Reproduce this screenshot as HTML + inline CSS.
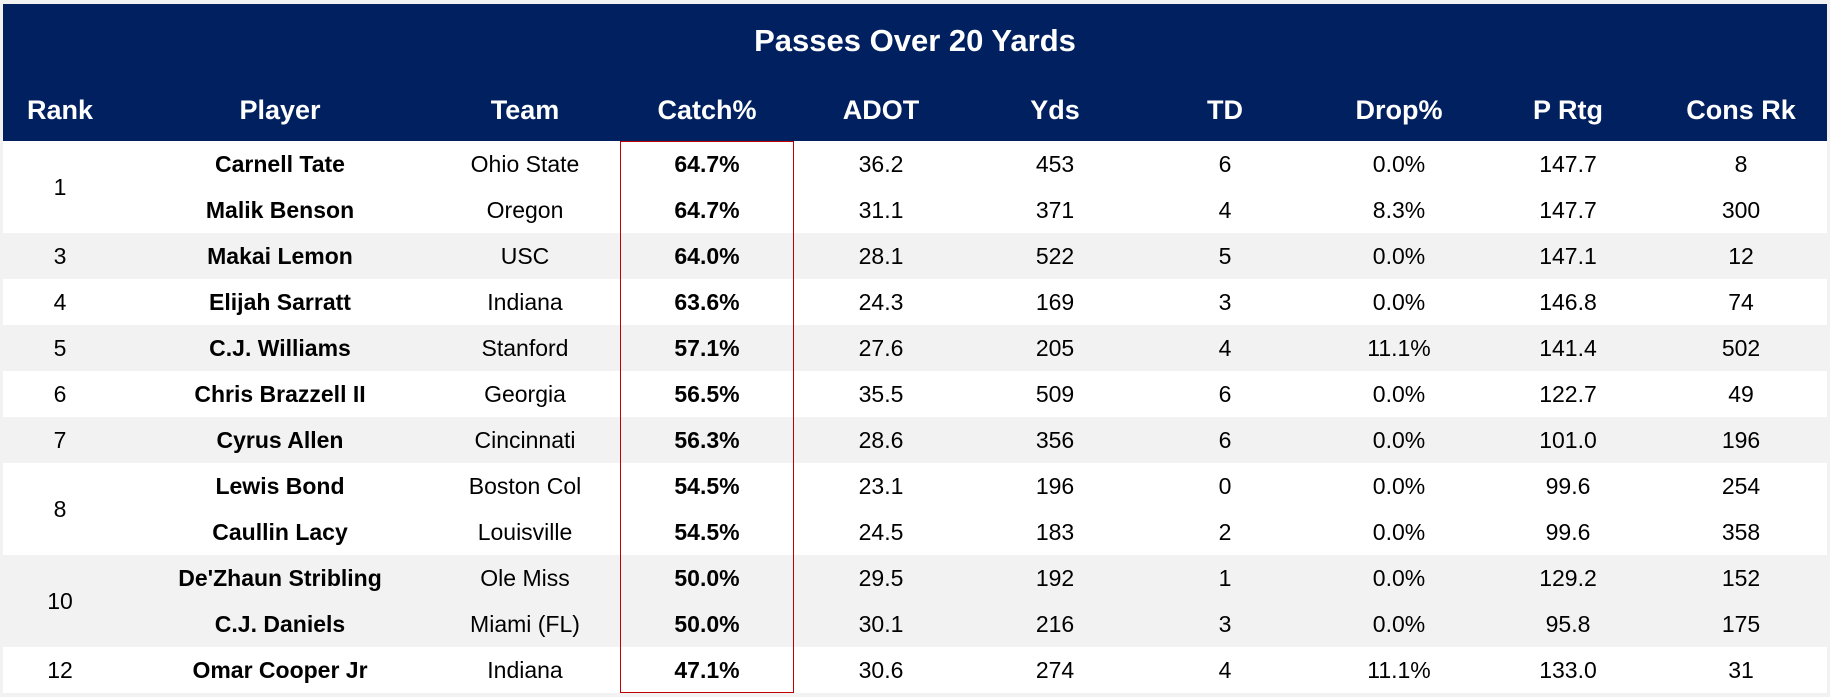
<!DOCTYPE html>
<html><head><meta charset="utf-8"><style>
body{margin:0;width:1830px;height:697px;background:#f2f2f2;position:relative;overflow:hidden;font-family:"Liberation Sans",sans-serif}
#hdr{position:absolute;left:3px;top:4px;width:1824px;height:137px;background:#002060}
.t{position:absolute;transform:translateX(-50%);white-space:nowrap;line-height:46px}
.band{position:absolute;left:3px;width:1824px}
.h{color:#fff;font-weight:bold;font-size:27px}
.c{color:#000;font-size:23px}
.b{font-weight:bold}
</style></head><body>
<div id="hdr"></div>
<div class="t h" style="left:915px;top:18px;font-size:31px">Passes Over 20 Yards</div>
<div id="rows"></div>
<div style="position:absolute;left:620px;top:141px;width:174px;height:552px;border:1.5px solid #c00000;box-sizing:border-box"></div>
<script>
const cols=[60,280,525,707,881,1055,1225,1399,1568,1741];
const heads=["Rank","Player","Team","Catch%","ADOT","Yds","TD","Drop%","P Rtg","Cons Rk"];
let html="";
heads.forEach((h,i)=>html+=`<div class="t h" style="left:${cols[i]}px;top:87px">${h}</div>`);
const data=[
["Carnell Tate","Ohio State","64.7%","36.2","453","6","0.0%","147.7","8"],
["Malik Benson","Oregon","64.7%","31.1","371","4","8.3%","147.7","300"],
["Makai Lemon","USC","64.0%","28.1","522","5","0.0%","147.1","12"],
["Elijah Sarratt","Indiana","63.6%","24.3","169","3","0.0%","146.8","74"],
["C.J. Williams","Stanford","57.1%","27.6","205","4","11.1%","141.4","502"],
["Chris Brazzell II","Georgia","56.5%","35.5","509","6","0.0%","122.7","49"],
["Cyrus Allen","Cincinnati","56.3%","28.6","356","6","0.0%","101.0","196"],
["Lewis Bond","Boston Col","54.5%","23.1","196","0","0.0%","99.6","254"],
["Caullin Lacy","Louisville","54.5%","24.5","183","2","0.0%","99.6","358"],
["De'Zhaun Stribling","Ole Miss","50.0%","29.5","192","1","0.0%","129.2","152"],
["C.J. Daniels","Miami (FL)","50.0%","30.1","216","3","0.0%","95.8","175"],
["Omar Cooper Jr","Indiana","47.1%","30.6","274","4","11.1%","133.0","31"]];
const bands=[[0,2,"#fff"],[2,1,"#f2f2f2"],[3,1,"#fff"],[4,1,"#f2f2f2"],[5,1,"#fff"],[6,1,"#f2f2f2"],[7,2,"#fff"],[9,2,"#f2f2f2"],[11,1,"#fff"]];
const ranks=["1","3","4","5","6","7","8","10","12"];
let out="";
bands.forEach((b,k)=>{
 const top=141+b[0]*46,h=b[1]*46;
 out+=`<div class="band" style="top:${top}px;height:${h}px;background:${b[2]}"></div>`;
 out+=`<div class="t c" style="left:60px;top:${top+h/2-23}px">${ranks[k]}</div>`;
});
data.forEach((r,i)=>{
 const top=141+i*46;
 r.forEach((v,j)=>{
  const bold=(j==0||j==2)?" b":"";
  out+=`<div class="t c${bold}" style="left:${cols[j+1]}px;top:${top}px">${v}</div>`;
 });
});
document.getElementById("rows").innerHTML=html+out;
</script>
</body></html>
